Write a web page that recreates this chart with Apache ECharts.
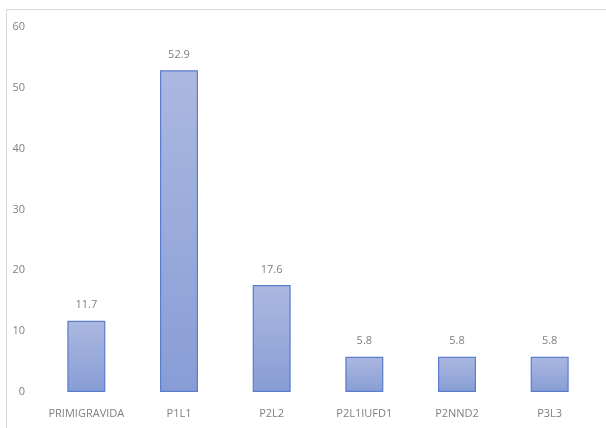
<!DOCTYPE html>
<html>
<head>
<meta charset="utf-8">
<script src="https://cdn.jsdelivr.net/npm/echarts@6/dist/echarts.min.js"></script>
<style>
  html, body { margin: 0; padding: 0; background: #fff; }
  #chart { width: 606px; height: 428px; }
</style>
</head>
<body>
<div id="chart"></div>
<script>
// Parity groups and their share (%)
const categories = ['PRIMIGRAVIDA', 'P1L1', 'P2L2', 'P2L1IUFD1', 'P2NND2', 'P3L3'];
const values = [11.7, 52.9, 17.6, 5.8, 5.8, 5.8];
const yTicks = { min: 0, max: 60, step: 10 };

const chart = echarts.init(document.getElementById('chart'), null, { renderer: 'canvas' });
const textFont = 'Open Sans, Liberation Sans, sans-serif';

chart.setOption({
  animation: false,
  backgroundColor: '#ffffff',
  grid: { left: 40, right: 10, top: 27, bottom: 36 },
  graphic: [
    { type: 'line', shape: { x1: 6, y1: 9.5, x2: 606, y2: 9.5 }, style: { stroke: '#d9d9d9', lineWidth: 1 } },
    { type: 'line', shape: { x1: 6.5, y1: 9, x2: 6.5, y2: 428 }, style: { stroke: '#d9d9d9', lineWidth: 1 } }
  ],
  xAxis: {
    type: 'category',
    data: categories,
    axisLine: { show: false },
    axisTick: { show: false },
    axisLabel: { color: '#7f7f7f', fontSize: 11, fontFamily: textFont, margin: 16, interval: 0 }
  },
  yAxis: {
    type: 'value',
    min: yTicks.min,
    max: yTicks.max,
    interval: yTicks.step,
    splitLine: { show: false },
    axisLine: { show: false },
    axisTick: { show: false },
    axisLabel: { color: '#7f7f7f', fontSize: 11, fontFamily: textFont, margin: 15 }
  },
  series: [{
    type: 'bar',
    data: values,
    barWidth: 38,
    itemStyle: {
      color: new echarts.graphic.LinearGradient(0, 0, 0, 1, [
        { offset: 0, color: '#abb8e0' },
        { offset: 1, color: '#889dd6' }
      ]),
      borderColor: '#5a7dcc',
      borderWidth: 1.2
    },
    label: {
      show: true,
      position: 'top',
      distance: 10,
      color: '#7f7f7f',
      fontSize: 11,
      fontFamily: textFont
    }
  }]
});
</script>
</body>
</html>
